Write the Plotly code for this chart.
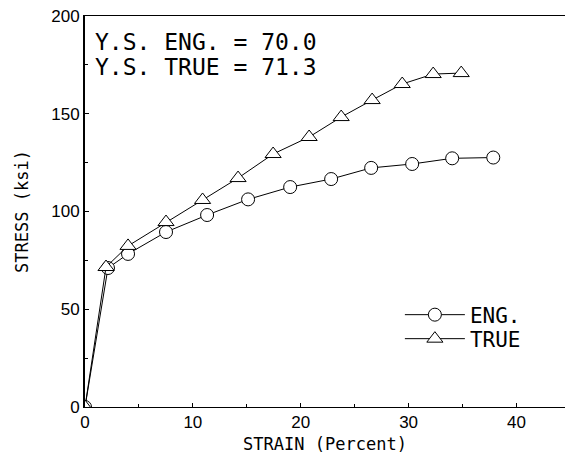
import plotly.graph_objects as go

# Engineering stress-strain data (strain %, stress ksi)
eng_strain = [0.0, 2.13, 3.99, 7.51, 11.32, 15.12, 19.02, 22.82, 26.53, 30.33, 34.04, 37.85]
eng_stress = [0.0, 71.1, 78.3, 89.5, 98.2, 106.2, 112.5, 116.6, 122.3, 124.3, 127.2, 127.6]

# True stress-strain data
true_strain = [0.0, 1.95, 3.99, 7.51, 10.9, 14.19, 17.44, 20.78, 23.75, 26.62, 29.41, 32.28, 34.88]
true_stress = [0.0, 71.6, 82.4, 94.6, 105.9, 117.1, 129.4, 138.1, 148.3, 157.0, 165.2, 170.3, 170.8]

ann_lines = ["Y.S. ENG. = 70.0", "Y.S. TRUE = 71.3"]
x_ticks = [0, 10, 20, 30, 40]
y_ticks = [0, 50, 100, 150, 200]

MONO = "DejaVu Sans Mono"
SANS = "Liberation Sans, Arial"

fig = go.Figure()
fig.add_trace(go.Scatter(
    x=eng_strain, y=eng_stress, name="ENG.", mode="lines+markers", legend="legend",
    line=dict(color="black", width=1),
    marker=dict(symbol="circle", size=13, color="white", line=dict(color="black", width=1)),
))
fig.add_trace(go.Scatter(
    x=true_strain, y=true_stress, name="TRUE", mode="lines+markers", legend="legend2",
    line=dict(color="black", width=1),
    marker=dict(symbol="triangle-up", size=14, color="white", line=dict(color="black", width=1)),
))

PLOT_TOP, PLOT_BOTTOM = 16, 407
H = PLOT_BOTTOM - PLOT_TOP
for i, t in enumerate(ann_lines):
    fig.add_annotation(
        text=t, xref="paper", yref="paper", x=0.017, y=(PLOT_BOTTOM - 42 - 25 * i) / H,
        xanchor="left", yanchor="middle", showarrow=False,
        font=dict(family=MONO, size=23, color="black"),
    )

leg_common = dict(xanchor="left", yanchor="top",
                  font=dict(family=MONO, size=21, color="black"),
                  bgcolor="rgba(0,0,0,0)", itemwidth=60)

fig.update_layout(
    width=565, height=466,
    margin=dict(l=85, r=0, t=16, b=59),
    paper_bgcolor="white", plot_bgcolor="white",
    showlegend=True,
    legend=dict(x=0.656, y=0.2877, **leg_common),
    legend2=dict(x=0.656, y=0.2263, **leg_common),
    xaxis=dict(
        range=[0, 44.5], tickvals=x_ticks, ticks="inside", ticklen=4,
        tickcolor="black", showline=True, linecolor="black", linewidth=1,
        mirror=True, showgrid=False, zeroline=False,
        minor=dict(dtick=5, ticks="inside", ticklen=3, tickcolor="black"),
        tickfont=dict(family=SANS, size=17, color="black"),
        ticklabeloverflow="allow",
        title=dict(text="STRAIN (Percent)", font=dict(family=MONO, size=17, color="black"), standoff=6),
    ),
    yaxis=dict(
        range=[0, 200], tickvals=y_ticks, ticks="inside", ticklen=4,
        tickcolor="black", showline=True, linecolor="black", linewidth=2,
        showgrid=False, zeroline=False,
        minor=dict(dtick=25, ticks="inside", ticklen=3, tickcolor="black"),
        tickfont=dict(family=SANS, size=17, color="black"),
        ticklabeloverflow="allow",
        title=dict(text="STRESS (ksi)", font=dict(family=MONO, size=17, color="black"), standoff=18),
    ),
)

fig.write_html(
    "out.html",
    config={"displayModeBar": False},
    post_script="document.body.style.margin='0';document.body.style.overflow='hidden';",
)
